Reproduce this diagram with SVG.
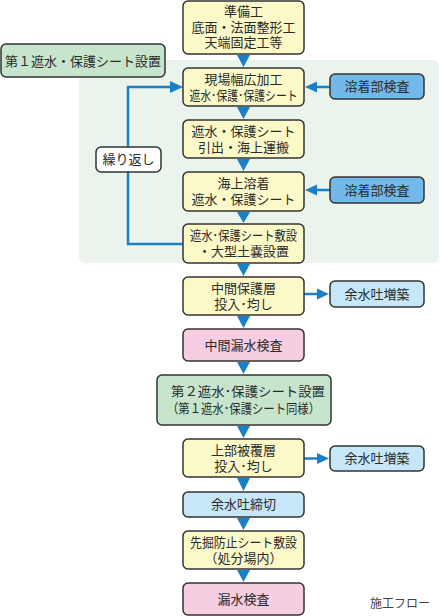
<svg xmlns="http://www.w3.org/2000/svg" width="440" height="616" viewBox="0 0 440 616">
<style>
text{font-family:"Noto Sans CJK JP","Noto Sans",sans-serif;font-size:13px;fill:#2a2a2a;text-anchor:middle}
.b{stroke:#333;stroke-width:1.5}
.y{fill:#fcf9c9}.g{fill:#c6e5cc}.p{fill:#f6cde1}.lb{fill:#c5e7f8}.mb{fill:#72b8e8}.w{fill:#fff}
.ln{fill:none;stroke:#1a7fc9;stroke-width:2.5}
.ah{fill:#1a7fc9}
.cap{font-size:12px;fill:#444;text-anchor:start}
</style>
<rect x="79" y="60" width="360" height="203" rx="6" fill="#ebf4ec"/>
<g id="connectors">
<path class="ah" d="M237,55H250L243.5,67Z"/>
<path class="ah" d="M237,107H250L243.5,119Z"/>
<path class="ah" d="M237,159H250L243.5,171Z"/>
<path class="ah" d="M237,212H250L243.5,223Z"/>
<path class="ah" d="M237,264H250L243.5,276Z"/>
<path class="ah" d="M237,316H250L243.5,328Z"/>
<path class="ah" d="M237,362H250L243.5,374Z"/>
<path class="ah" d="M237,426H250L243.5,438Z"/>
<path class="ah" d="M237,478H250L243.5,491Z"/>
<path class="ah" d="M237,518H250L243.5,530Z"/>
<path class="ah" d="M237,570H250L243.5,582Z"/>
<path class="ln" d="M330,87H316"/><path class="ah" d="M317,81.5V92.5L305,87Z"/>
<path class="ln" d="M330,190H316"/><path class="ah" d="M317,184.5V195.5L305,190Z"/>
<path class="ln" d="M304,294H318"/><path class="ah" d="M317,288.5V299.5L329,294Z"/>
<path class="ln" d="M304,458.5H318"/><path class="ah" d="M317,453V464L329,458.5Z"/>
<path class="ln" d="M183,244H128V87H171"/><path class="ah" d="M170,81V93L183,87Z"/>
</g>
<g id="n1"><rect class="b y" x="183" y="1" width="121" height="53" rx="5"/><text x="243.5" y="16">準備工</text><text x="243.5" y="32">底面・法面整形工</text><text x="243.5" y="47">天端固定工等</text></g>
<g id="g1"><rect class="b g" x="1" y="44" width="164" height="33" rx="5"/><text x="83" y="65.5">第１遮水・保護シート設置</text></g>
<g id="n2"><rect class="b y" x="183" y="68" width="121" height="38" rx="5"/><text x="243.5" y="83.5">現場幅広加工</text><text x="243.5" y="99.5" textLength="108" lengthAdjust="spacingAndGlyphs">遮水･保護･保護シート</text></g>
<g id="k1"><rect class="b mb" x="330" y="74" width="94" height="25" rx="5"/><text x="377" y="91">溶着部検査</text></g>
<g id="n3"><rect class="b y" x="183" y="120" width="121" height="38" rx="5"/><text x="243.5" y="135.5">遮水・保護シート</text><text x="243.5" y="151.5">引出・海上運搬</text></g>
<g id="rep"><rect class="b w" x="96" y="147" width="65" height="25" rx="5"/><text x="128.5" y="164">繰り返し</text></g>
<g id="n4"><rect class="b y" x="183" y="172" width="121" height="39" rx="5"/><text x="243.5" y="188">海上溶着</text><text x="243.5" y="204">遮水・保護シート</text></g>
<g id="k2"><rect class="b mb" x="330" y="177" width="94" height="26" rx="5"/><text x="377" y="194.5">溶着部検査</text></g>
<g id="n5"><rect class="b y" x="183" y="224" width="121" height="39" rx="5"/><text x="243.5" y="240" textLength="107" lengthAdjust="spacingAndGlyphs">遮水･保護シート敷設</text><text x="243.5" y="256">・大型土嚢設置</text></g>
<g id="n6"><rect class="b y" x="183" y="277" width="121" height="38" rx="5"/><text x="243.5" y="292.5">中間保護層</text><text x="243.5" y="308.5">投入･均し</text></g>
<g id="e1"><rect class="b lb" x="330" y="281" width="94" height="26" rx="5"/><text x="377" y="298.5">余水吐増築</text></g>
<g id="n7"><rect class="b p" x="183" y="329" width="121" height="32" rx="5"/><text x="243.5" y="349.5">中間漏水検査</text></g>
<g id="n8"><rect class="b g" x="157" y="375" width="174" height="50" rx="5"/><text x="248" y="396" textLength="154" lengthAdjust="spacingAndGlyphs">第２遮水･保護シート設置</text><text x="243.5" y="413" textLength="153" lengthAdjust="spacingAndGlyphs">（第１遮水･保護シート同様）</text></g>
<g id="n9"><rect class="b y" x="183" y="439" width="121" height="38" rx="5"/><text x="243.5" y="454.5">上部被覆層</text><text x="243.5" y="470.5">投入･均し</text></g>
<g id="e2"><rect class="b lb" x="330" y="446" width="94" height="25" rx="5"/><text x="377" y="463">余水吐増築</text></g>
<g id="n10"><rect class="b lb" x="183" y="492" width="121" height="25" rx="5"/><text x="243.5" y="509">余水吐締切</text></g>
<g id="n11"><rect class="b y" x="183" y="531" width="121" height="38" rx="5"/><text x="243.5" y="546.5" textLength="107" lengthAdjust="spacingAndGlyphs">先掘防止シート敷設</text><text x="243.5" y="562.5">（処分場内）</text></g>
<g id="n12"><rect class="b p" x="183" y="583" width="121" height="32" rx="5"/><text x="243.5" y="603.5">漏水検査</text></g>
<text class="cap" x="370" y="607.5">施工フロー</text>
</svg>
